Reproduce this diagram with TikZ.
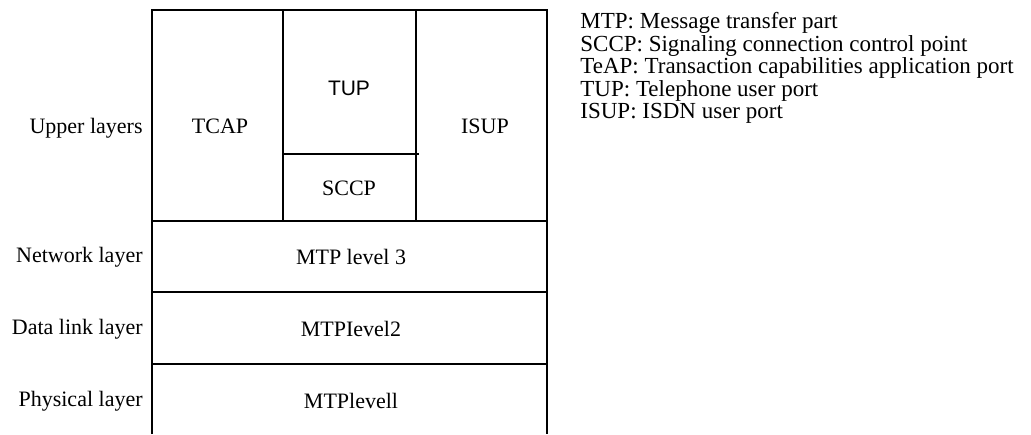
\documentclass[tikz,border=0pt]{standalone}
\usepackage{fontspec}
\setmainfont{Liberation Serif}
\setsansfont{Liberation Sans}

\begin{document}
\begin{tikzpicture}[
      x=0.5pt, y=-0.5pt,
      grid/.style={line width=0.9pt},
      layer/.style={anchor=east, inner sep=0pt, font=\fontsize{11}{13}\selectfont},
      cell/.style={inner sep=0pt, font=\fontsize{11}{13}\selectfont},
      sanscell/.style={inner sep=0pt, font=\sffamily\fontsize{10.5}{13}\selectfont},
      legend/.style={anchor=north west, align=left, inner sep=0pt, font=\fontsize{11.5}{11.25}\selectfont}
      ]
      \useasboundingbox (0,0) rectangle (1031,434);

      % Grid
      \draw[grid] (152,434) -- (152,10) -- (547,10) -- (547,434);
      \draw[grid] (283,10) -- (283,221);
      \draw[grid] (416,10) -- (416,221);
      \draw[grid] (283,154) -- (419,154);
      \draw[grid] (152,221) -- (547,221);
      \draw[grid] (152,292) -- (547,292);
      \draw[grid] (152,364) -- (547,364);

      % Layer names
      \node[layer] (upper) at (143,128) {Upper layers};
      \node[layer] (network) at (143,257) {Network layer};
      \node[layer] (datalink) at (143,329) {Data link layer};
      \node[layer] (physical) at (143,401) {Physical layer};

      % Protocols
      \node[cell] (tcap) at (220,126) {TCAP};
      \node[sanscell] (tup) at (349,88) {TUP};
      \node[cell] (sccp) at (349,188) {SCCP};
      \node[cell] (isup) at (485,126) {ISUP};
      \node[cell] (mtp3) at (351,257) {MTP level 3};
      \node[cell] (mtp2) at (351,329) {MTPIevel2};
      \node[cell] (mtp1) at (351,401) {MTPlevell};

      % Legend
      \node[legend] (abbrev) at (580,12) {MTP: Message transfer part\\
        SCCP: Signaling connection control point\\
        TeAP: Transaction capabilities application port\\
        TUP: Telephone user port\\
        ISUP: ISDN user port};
    \end{tikzpicture}
\end{document}
